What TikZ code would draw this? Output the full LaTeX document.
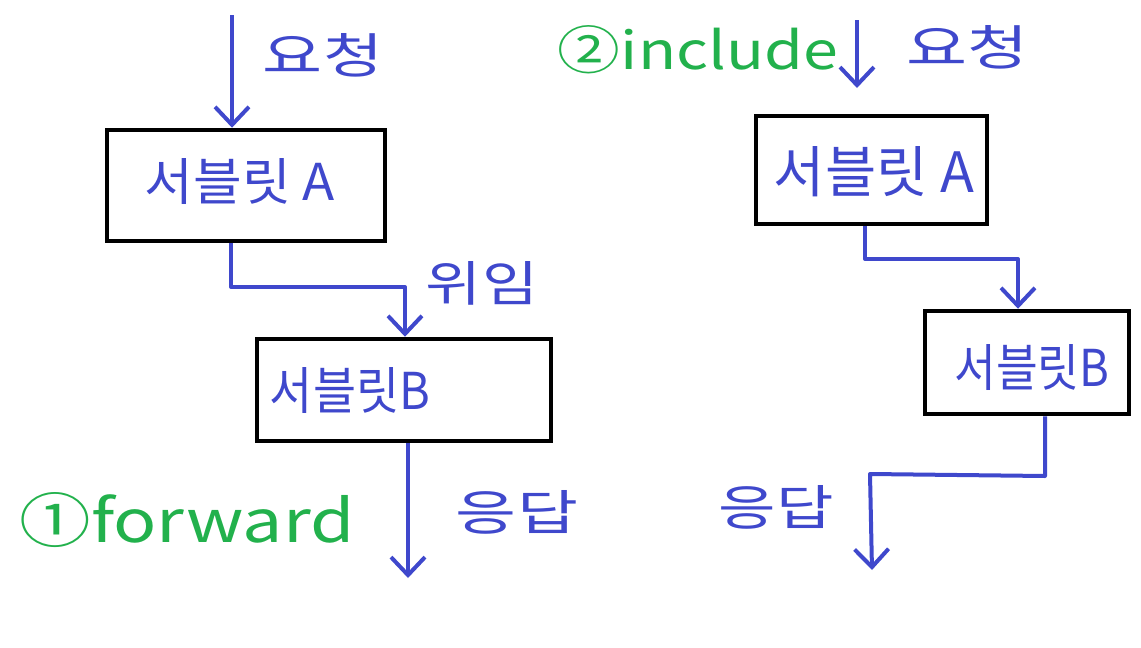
\documentclass[tikz,border=0pt]{standalone}
\usepackage{fontspec}
\setmainfont{Noto Sans CJK KR}
\usetikzlibrary{arrows.meta}
\definecolor{pen}{RGB}{63,72,204}
\definecolor{grn}{RGB}{34,177,76}
\newcommand{\fitbox}[3]{\resizebox{#1pt}{#2pt}{#3}}
\tikzset{
  box/.style={draw=black, line width=4.5pt, inner sep=0pt},
  conn/.style={draw=pen, line width=4pt, line join=round, -{Straight Barb[length=18pt,width=34pt,line width=4pt]}},
  lbl/.style={text=pen, inner sep=0pt},
  glbl/.style={text=grn, inner sep=0pt},
}
\begin{document}
\begin{tikzpicture}[x=1pt,y=-1pt]
\useasboundingbox (0,0) rectangle (1141,648);
% boxes
\node[box, minimum width=278pt, minimum height=111pt] (a1) at (246,185.5) {};
\node[box, minimum width=294pt, minimum height=102pt] (b1) at (404,390) {};
\node[box, minimum width=231pt, minimum height=108pt] (a2) at (871.5,170) {};
\node[box, minimum width=204pt, minimum height=103pt] (b2) at (1027,362.5) {};
% box texts
\node[lbl] (ta1) at (240,182) {\fitbox{190}{42}{서블릿 A}};
\node[lbl] (tb1) at (350,390) {\fitbox{160}{42}{서블릿B}};
\node[lbl] (ta2) at (874,172) {\fitbox{200}{46}{서블릿 A}};
\node[lbl] (tb2) at (1032,367) {\fitbox{155}{42}{서블릿B}};
% free ends
\coordinate (s1) at (232,15);
\coordinate (e1) at (408,578);
\coordinate (s2) at (857,20);
\coordinate (e2) at (872,570);
% left connectors
\draw[conn] (s1) -- (a1.north -| s1);
\draw[conn] (a1.south -| 231,0) -- (231,287) -- (405,287) -- (b1.north -| 405,0);
\draw[conn] (b1.south -| e1) -- (e1);
% right connectors
\draw[conn] (s2) -- (857,88);
\draw[conn] (a2.south -| 865,0) -- (865,259) -- (1018,259) -- (b2.north -| 1018,0);
\draw[conn] (b2.south -| 1045,0) -- (1045,476) -- (870,474) -- (e2);
% labels
\node[lbl] (l1) at (323,55) {\fitbox{120}{40}{요청}};
\node[lbl] (l2) at (482,283) {\fitbox{112}{40}{위임}};
\node[lbl] (l3) at (517,512) {\fitbox{122}{40}{응답}};
\node[lbl] (l4) at (967,47) {\fitbox{122}{40}{요청}};
\node[lbl] (l5) at (776,507) {\fitbox{115}{40}{응답}};
\node[glbl] (g1) at (187,520) {\fitbox{335}{50}{①forward}};
\node[glbl] (g2) at (698,50) {\fitbox{280}{44}{②include}};
\end{tikzpicture}
\end{document}
